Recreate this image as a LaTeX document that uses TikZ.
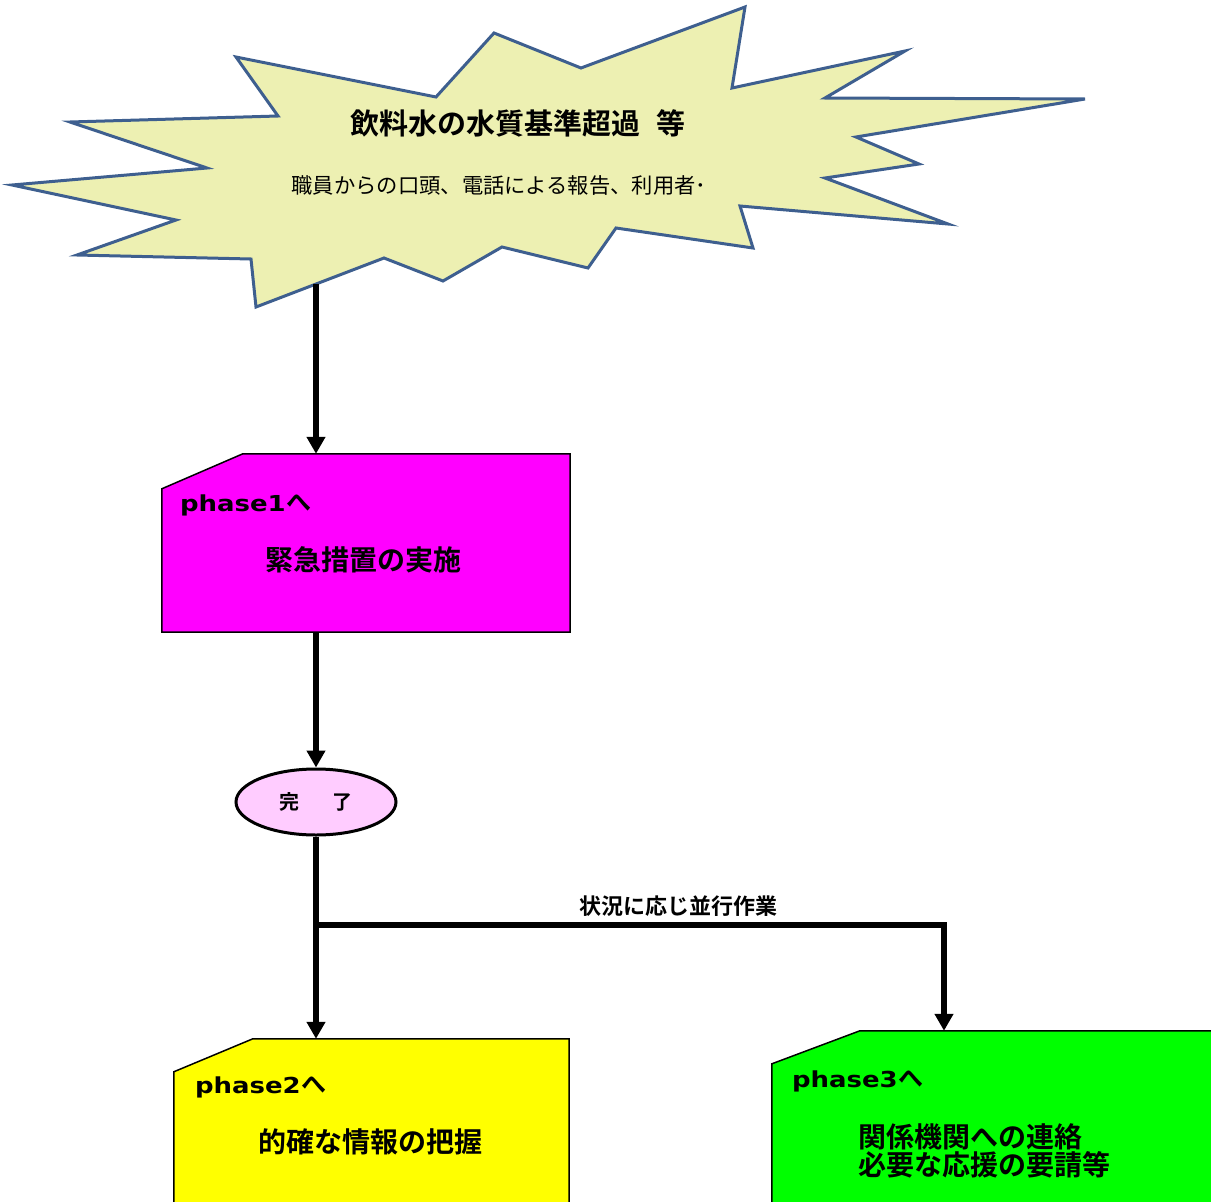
\documentclass[tikz,border=0pt]{standalone}
\usepackage{fontspec}
\setmainfont{Noto Sans CJK JP}[BoldFont={Noto Sans CJK JP Bold}]
\newfontfamily\tagfont{DejaVu Sans}[FakeStretch=1.18]
\usetikzlibrary{positioning,shapes.geometric,arrows.meta}
\definecolor{burstfill}{HTML}{EDF0B2}
\definecolor{burstline}{HTML}{3E5F8F}
\definecolor{donefill}{RGB}{255,204,255}
\definecolor{phaseone}{RGB}{255,0,255}
\definecolor{phasetwo}{RGB}{255,255,0}
\definecolor{phasethree}{RGB}{0,255,0}
\newcommand{\phasecut}[4]{% node, chamfer x, chamfer y, colour
  \filldraw[fill=#4, line width=1.5pt] (#1.south west) -- ([yshift=-#3]#1.north west)
    -- ([xshift=#2]#1.north west) -- (#1.north east) -- (#1.south east) -- cycle;}
\begin{document}
\begin{tikzpicture}[x=1pt, y=-1pt,
  phase/.style = {rectangle, inner sep=0pt},
  tag/.style = {anchor=west, inner sep=0pt, font=\fontsize{22}{22}\selectfont},
  task/.style = {font=\bfseries\fontsize{28}{26}\selectfont, align=left},
  note/.style = {font=\bfseries\fontsize{22}{22}\selectfont},
  finish/.style = {ellipse, draw, line width=3pt, fill=donefill, minimum width=160pt, minimum height=66pt, inner sep=0pt, font=\bfseries\fontsize{20}{20}\selectfont},
  flow/.style = {line width=5.5pt, -{Triangle[length=17pt,width=18pt]}}]
\useasboundingbox (0,0) rectangle (1211,1202);

% burst
\draw[burstline, line width=3pt, fill=burstfill, line join=miter]
  (236,57) -- (278,116) -- (70,122) -- (207,168) -- (12,185) -- (176,220) -- (77,255)
  -- (251,259) -- (256,307) -- (384,258) -- (443,281) -- (502,247) -- (588,268)
  -- (616,228) -- (753,248) -- (740,206) -- (948,224) -- (825,178) -- (919,164)
  -- (856,137) -- (1085,99) -- (825,98) -- (905,51) -- (732,88) -- (745,7)
  -- (581,68) -- (494,33) -- (436,97) -- cycle;
\node[font=\bfseries\fontsize{29}{30}\selectfont] (title) at (518,123) {飲料水の水質基準超過\hspace{0.55em}等};
\node[font=\fontsize{21.3}{22}\selectfont] (report) at (499,185) {職員からの口頭、電話による報告、利用者･};
\coordinate (foot) at (316,284);

% phases
\node[phase, minimum width=408pt, minimum height=178pt] (p1) at (366,543) {};
\phasecut{p1}{81pt}{35pt}{phaseone}
\node[tag] (t1) at ([xshift=18pt,yshift=38pt]p1.west) {{\tagfont\bfseries phase1}\hspace{1pt}{\bfseries\fontsize{25}{25}\selectfont へ}};
\node[task] (k1) at (363,560) {緊急措置の実施};

\node[finish] (end) at (316,802) {完\hspace{1.65em}了};

\node[phase, minimum width=395pt, minimum height=200pt] (p2) at (371.5,1139) {};
\phasecut{p2}{79pt}{33pt}{phasetwo}
\node[tag] (t2) at ([xshift=21pt,yshift=52pt]p2.west) {{\tagfont\bfseries phase2}\hspace{1pt}{\bfseries\fontsize{25}{25}\selectfont へ}};
\node[task] (k2) at (370,1142) {的確な情報の把握};

\node[phase, minimum width=468pt, minimum height=200pt] (p3) at (1006,1131) {};
\phasecut{p3}{88pt}{33pt}{phasethree}
\node[tag] (t3) at ([xshift=20pt,yshift=50pt]p3.west) {{\tagfont\bfseries phase3}\hspace{1pt}{\bfseries\fontsize{25}{25}\selectfont へ}};
\node[task, anchor=west] (k3) at (855,1151) {関係機関への連絡\\必要な応援の要請等};

% connectors
\coordinate (fork) at (316,925);
\coordinate (bend) at (944,925);
\draw[flow] (foot) -- (foot |- p1.north);
\draw[flow] (end.north |- p1.south) -- (end);
\draw[flow] (end) -- (end |- p2.north);
\draw[flow] (fork) -- node[note, pos=0.578, above=2pt] {状況に応じ並行作業} (bend) -- (bend |- p3.north);
\end{tikzpicture}
\end{document}
